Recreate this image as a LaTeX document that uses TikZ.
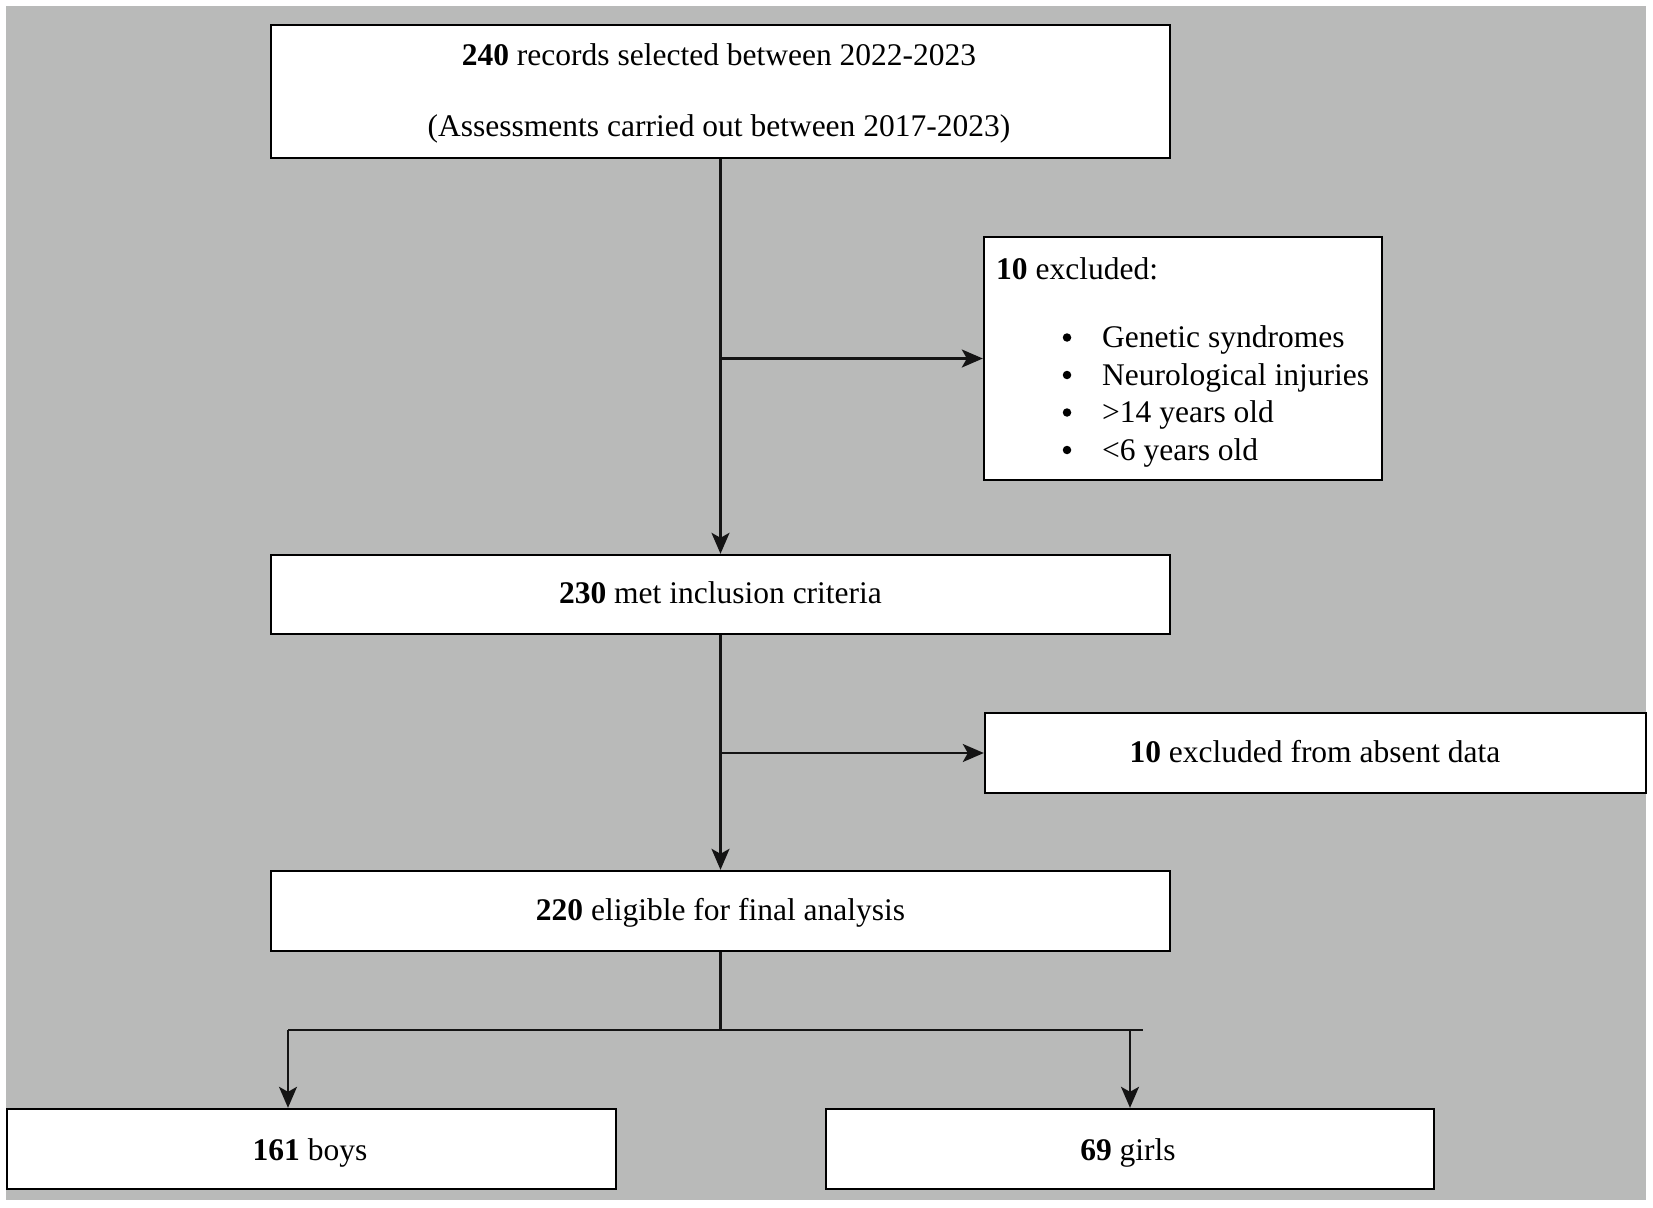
\documentclass[tikz,border=0pt]{standalone}
\usepackage{fontspec}
\setmainfont{Liberation Serif}
\usetikzlibrary{arrows.meta}
\definecolor{bggray}{RGB}{185,186,185}
\begin{document}
\begin{tikzpicture}[x=1pt,y=-1pt,
  box/.style={draw=black, line width=2.4pt, fill=white, inner sep=0pt, rectangle},
  txt/.style={inner sep=0pt, font=\fontsize{31.5}{38}\selectfont},
  dotb/.style={circle, fill=black, inner sep=0pt, minimum size=8.5pt},
  conn/.style={line width=2.2pt, draw=black!92},
  arr/.style={conn, -{Stealth[length=21pt,width=18pt,inset=5pt]}}]
\useasboundingbox (0,0) rectangle (1653,1207);
\fill[bggray] (6,6) rectangle (1646,1200);

% boxes
\node[box, minimum width=899pt, minimum height=133pt] (top) at (720.5,91.5) {};
\node[box, minimum width=398pt, minimum height=243pt] (excl1) at (1183,358.5) {};
\node[box, minimum width=899pt, minimum height=79pt] (b230) at (720.5,594.5) {};
\node[box, minimum width=661pt, minimum height=80pt] (excl2) at (1315.5,753) {};
\node[box, minimum width=899pt, minimum height=80pt] (b220) at (720.5,911) {};
\node[box, minimum width=609pt, minimum height=80pt] (boys) at (311.5,1149) {};
\node[box, minimum width=608pt, minimum height=80pt] (girls) at (1130,1149) {};

% texts
\node[txt, anchor=base] (t1a) at (719,66) {\textbf{240} records selected between 2022-2023};
\node[txt, anchor=base] (t1b) at (719,136) {(Assessments carried out between 2017-2023)};

\node[txt, anchor=base west] (e1h) at (996,279) {\textbf{10} excluded:};
\node[dotb] (bu1) at (1067,337.5) {};
\node[dotb] (bu2) at (1067,375) {};
\node[dotb] (bu3) at (1067,412.5) {};
\node[dotb] (bu4) at (1067,450) {};
\node[txt, anchor=base west] (it1) at (1102,347.5) {Genetic syndromes};
\node[txt, anchor=base west] (it2) at (1102,385) {Neurological injuries};
\node[txt, anchor=base west] (it3) at (1102,422.5) {>14 years old};
\node[txt, anchor=base west] (it4) at (1102,460) {<6 years old};

\node[txt, anchor=base] (t230) at (720.5,603) {\textbf{230} met inclusion criteria};
\node[txt, anchor=base] (te2) at (1315,762) {\textbf{10} excluded from absent data};
\node[txt, anchor=base] (t220) at (720.5,920) {\textbf{220} eligible for final analysis};
\node[txt, anchor=base] (tboys) at (310,1160) {\textbf{161} boys};
\node[txt, anchor=base] (tgirls) at (1128,1160) {\textbf{69} girls};

% connectors
\draw[arr] (top.south) -- (b230.north);
\draw[arr] (top.south |- excl1.west) -- (excl1.west);
\draw[arr] (b230.south) -- (b220.north);
\draw[arr] (b230.south |- excl2.west) -- (excl2.west);

\coordinate (split) at (720.5,1030);
\coordinate (bl) at (288,1030);
\coordinate (gl) at (1130,1030);
\coordinate (hend) at (1143,1030);
\draw[conn] (b220.south) -- (split);
\draw[conn] (bl) -- (hend);
\draw[arr] (bl) -- (bl |- boys.north);
\draw[arr] (gl) -- (girls.north);
\end{tikzpicture}
\end{document}
